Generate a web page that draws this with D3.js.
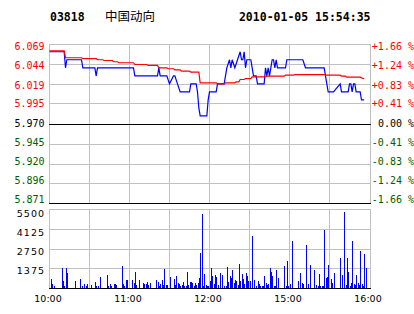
<!DOCTYPE html>
<html>
<head>
<meta charset="utf-8">
<script src="https://cdn.jsdelivr.net/npm/d3@7"></script>
<style>
body { margin: 0; background: #fff; }
svg { display: block; }
</style>
</head>
<body>
<svg id="chart" width="414" height="314"></svg>
<script>
const stockCode = "03818";
const stockName = "中国动向";
const stamp = "2010-01-05 15:54:35";
const prevClose = 5.970;

const priceTicks = [6.069, 6.044, 6.019, 5.995, 5.970, 5.945, 5.920, 5.896, 5.871];
const priceLabels = ["6.069", "6.044", "6.019", "5.995", "5.970", "5.945", "5.920", "5.896", "5.871"];
const pctLabels = ["+1.66 %", "+1.24 %", "+0.83 %", "+0.41 %", "0.00 %", "-0.41 %", "-0.83 %", "-1.24 %", "-1.66 %"];
const volTicks = [1375, 2750, 4125, 5500];
const timeTicks = [0, 60, 120, 180, 240];
const timeLabels = ["10:00", "11:00", "12:00", "15:00", "16:00"];

// minutes since 10:00 (lunch break removed), price
const priceMinutes = [0, 11, 12, 13, 24, 25, 34, 35, 36, 63, 64, 81, 82, 83, 88, 90, 93, 94, 96, 98,
    105, 106, 110, 111, 112, 113, 118, 119, 120, 125, 126, 131, 132, 133, 135, 136, 137, 139, 141, 143,
    144, 145, 146, 147, 148, 151, 152, 153, 155, 156, 161, 162, 163, 164, 165, 166, 167, 168, 169, 170,
    171, 177, 178, 190, 192, 206, 207, 209, 213, 218, 219, 224, 225, 226, 227, 228, 229, 230, 233, 234, 236];
const prices = [6.06, 6.06, 6.04, 6.05, 6.05, 6.04, 6.04, 6.03, 6.04, 6.04, 6.03, 6.03, 6.04, 6.03, 6.03, 6.02, 6.03, 6.03, 6.02, 6.01,
    6.01, 6.02, 6.02, 6.01, 5.99, 5.98, 5.98, 6.00, 6.01, 6.01, 6.02, 6.02, 6.03, 6.04, 6.05, 6.04, 6.05, 6.04, 6.05, 6.06,
    6.05, 6.05, 6.06, 6.04, 6.05, 6.05, 6.04, 6.03, 6.03, 6.02, 6.02, 6.04, 6.03, 6.04, 6.03, 6.04, 6.05, 6.05, 6.04, 6.05,
    6.04, 6.04, 6.05, 6.05, 6.04, 6.04, 6.03, 6.01, 6.01, 6.02, 6.01, 6.01, 6.02, 6.02, 6.01, 6.02, 6.02, 6.01, 6.01, 6.00, 6.00];

const avgMinutes = [0, 11, 12, 24, 25, 35, 36, 40, 41, 47, 48, 51, 52, 63, 64, 73, 74, 81, 82, 88,
    89, 93, 94, 98, 99, 105, 106, 112, 113, 125, 126, 131, 132, 139, 140, 142, 143, 146, 147, 151,
    152, 162, 163, 176, 177, 183, 184, 206, 207, 218, 219, 222, 223, 233, 234, 236];
const avgPrices = [6.061, 6.061, 6.0525, 6.0525, 6.0513, 6.0513, 6.05, 6.05, 6.0491, 6.0491, 6.0475, 6.0475, 6.0463, 6.0463, 6.0441, 6.0441, 6.0429, 6.0429, 6.04, 6.04,
    6.0388, 6.0388, 6.0375, 6.0375, 6.0358, 6.0358, 6.0345, 6.0345, 6.0213, 6.0213, 6.02, 6.02, 6.0213, 6.0213, 6.0225, 6.0225, 6.0254, 6.0254, 6.0266, 6.0266,
    6.0288, 6.0288, 6.0295, 6.0295, 6.0308, 6.0308, 6.0316, 6.0316, 6.0308, 6.0308, 6.0295, 6.0295, 6.0283, 6.0283, 6.0275, 6.0263];

const volMinutes = [1, 2, 3, 9, 10, 11, 12, 13, 19, 23, 24, 26, 27, 28, 31, 34, 35, 36, 38, 43,
    44, 45, 46, 48, 49, 50, 54, 55, 56, 57, 58, 62, 63, 64, 65, 67, 70, 71, 72, 73,
    74, 75, 80, 81, 82, 83, 84, 85, 86, 87, 88, 90, 93, 94, 95, 96, 97, 98, 99, 100,
    101, 102, 103, 104, 105, 106, 107, 108, 109, 110, 111, 112, 113, 114, 115, 116, 117, 118, 119, 120,
    121, 122, 123, 124, 125, 126, 128, 129, 131, 132, 133, 134, 135, 136, 137, 138, 139, 140, 141, 142,
    143, 144, 145, 146, 147, 148, 149, 150, 152, 153, 155, 156, 157, 158, 159, 160, 161, 162, 163, 164,
    165, 166, 167, 168, 169, 170, 171, 176, 177, 178, 179, 180, 182, 186, 188, 189, 190, 192, 194, 195,
    198, 200, 201, 202, 203, 204, 205, 206, 207, 208, 209, 211, 212, 213, 218, 219, 221, 222, 223, 224,
    225, 226, 227, 228, 229, 230, 231, 232, 233, 234, 235, 236, 237];
const volumes = [650, 300, 185, 1415, 510, 185, 1415, 1067, 510, 650, 160, 300, 185, 300, 230, 440, 185, 185, 790, 930,
    185, 300, 160, 300, 300, 230, 1555, 300, 185, 580, 580, 580, 370, 1137, 230, 580, 370, 300, 300, 440,
    230, 370, 580, 440, 185, 300, 580, 230, 1345, 230, 230, 790, 650, 230, 860, 370, 300, 185, 230, 440,
    185, 185, 1137, 230, 440, 440, 370, 160, 370, 230, 370, 720, 2460, 5170, 160, 1000, 230, 160, 185, 510,
    1415, 860, 300, 930, 790, 230, 1067, 930, 160, 160, 1485, 440, 860, 720, 1276, 370, 580, 510, 230, 1694,
    510, 1000, 650, 300, 1067, 860, 510, 510, 3640, 580, 160, 510, 300, 160, 160, 160, 860, 370, 230, 300,
    1415, 1137, 860, 160, 160, 1276, 720, 1555, 160, 1900, 160, 300, 3290, 510, 1067, 370, 300, 3016, 300, 1624,
    1276, 230, 160, 1000, 160, 160, 160, 4060, 720, 790, 1624, 650, 370, 1067, 2110, 930, 5310, 230, 2110, 1137,
    160, 370, 3290, 300, 230, 930, 370, 230, 2600, 300, 160, 2390, 1415];

const svg = d3.select("#chart");
const x = d3.scaleLinear().domain([0, 240]).range([49, 369]);
const y = d3.scaleLinear().domain([5.871, 6.069]).range([203.5, 44.5]);
const yLabel = d3.scaleLinear().domain([5.871, 6.069]).range([199.6, 46.4]);
const yv = d3.scaleLinear().domain([0, 5500]).range([288.5, 209.5]);
const yvLabel = d3.scaleLinear().domain([0, 5500]).range([289.2, 213.7]);
const px = v => Math.floor(v) + 0.5;
const grey = "#c0c0c0";
const green = "#006000";

function tickColor(v) {
    if (Math.abs(v - prevClose) < 1e-6) return "#000";
    return v > prevClose ? "#ff0000" : green;
}

function drawHeader() {
    const head = svg.append("g").attr("font-family", "DejaVu Sans Mono").attr("font-weight", "bold").attr("font-size", "11.5px");
    head.append("text").attr("x", 50).attr("y", 20.5).text(stockCode);
    head.append("text").attr("x", 370.5).attr("y", 20.5).attr("text-anchor", "end").text(stamp);
    svg.append("text").attr("x", 105).attr("y", 20.5)
        .attr("font-family", "Noto Sans CJK SC").attr("font-size", "12.5px")
        .text(stockName);
}

function drawGrid() {
    const g = svg.append("g").attr("shape-rendering", "crispEdges").attr("stroke-width", 1);
    const cols = d3.range(0, 240, 30);

    g.selectAll(".pv").data(cols).join("line")
        .attr("x1", d => px(x(d))).attr("x2", d => px(x(d)))
        .attr("y1", y(6.069)).attr("y2", y(5.871)).attr("stroke", grey);
    g.append("line").attr("x1", 370.5).attr("x2", 370.5).attr("y1", y(6.069)).attr("y2", y(5.871)).attr("stroke", grey);

    g.selectAll(".vv").data(cols).join("line")
        .attr("x1", d => px(x(d))).attr("x2", d => px(x(d)))
        .attr("y1", yv(5500)).attr("y2", yv(0)).attr("stroke", grey);
    g.append("line").attr("x1", 370.5).attr("x2", 370.5).attr("y1", yv(5500)).attr("y2", yv(0)).attr("stroke", grey);

    const blackTicks = [prevClose, 5.871];
    const hl = priceTicks.slice().sort((a, b) => blackTicks.includes(a) - blackTicks.includes(b));
    g.selectAll(".ph").data(hl).join("line")
        .attr("x1", 49).attr("x2", 371)
        .attr("y1", d => px(y(d))).attr("y2", d => px(y(d)))
        .attr("stroke", d => blackTicks.includes(d) ? "#000" : grey);

    g.selectAll(".vh").data(volTicks).join("line")
        .attr("x1", 49).attr("x2", 371)
        .attr("y1", d => px(yv(d))).attr("y2", d => px(yv(d)))
        .attr("stroke", grey);
    g.append("line").attr("x1", 49).attr("x2", 371).attr("y1", px(yv(0))).attr("y2", px(yv(0))).attr("stroke", "#000");
}

function drawAxes() {
    const mono = svg.append("g").attr("font-family", "DejaVu Sans Mono").attr("font-size", "10px");
    mono.selectAll(".pl").data(priceTicks).join("text")
        .attr("x", 44.5).attr("y", d => yLabel(d)).attr("dy", "0.36em")
        .attr("text-anchor", "end").attr("fill", tickColor)
        .text((d, i) => priceLabels[i]);
    mono.selectAll(".rl").data(priceTicks).join("text")
        .attr("x", 414).attr("y", d => yLabel(d)).attr("dy", "0.36em")
        .attr("text-anchor", "end").attr("fill", tickColor)
        .text((d, i) => pctLabels[i]);

    svg.append("g").attr("font-family", "DejaVu Sans").attr("font-size", "9.5px").attr("letter-spacing", "1px")
        .selectAll("text").data(volTicks).join("text")
        .attr("x", 45).attr("y", d => yvLabel(d)).attr("dy", "0.36em")
        .attr("text-anchor", "end").text(d => d);

    svg.append("g").attr("font-family", "DejaVu Sans").attr("font-size", "9.5px")
        .selectAll("text").data(timeTicks).join("text")
        .attr("x", d => x(d) - 1).attr("y", 302)
        .attr("text-anchor", "middle").text((d, i) => timeLabels[i]);
}

function drawVolume() {
    svg.append("g").attr("shape-rendering", "crispEdges").attr("fill", "#0000ff")
        .selectAll("rect").data(volMinutes).join("rect")
        .attr("x", d => Math.floor(x(d)) + 1).attr("width", 1)
        .attr("y", (d, i) => Math.round(yv(volumes[i])))
        .attr("height", (d, i) => 288 - Math.round(yv(volumes[i])));
}

function drawLines() {
    const line = d3.line().x(d => x(d[0]) + 0.5).y(d => y(d[1]));
    svg.append("path")
        .attr("d", line(d3.zip(priceMinutes, prices)))
        .attr("fill", "none").attr("stroke", "#0000ff").attr("stroke-width", 1.2);
    svg.append("path")
        .attr("d", line(d3.zip(avgMinutes, avgPrices)))
        .attr("fill", "none").attr("stroke", "#ff0000").attr("stroke-width", 1.2);
}

drawHeader();
drawGrid();
drawVolume();
drawLines();
drawAxes();
</script>
</body>
</html>
